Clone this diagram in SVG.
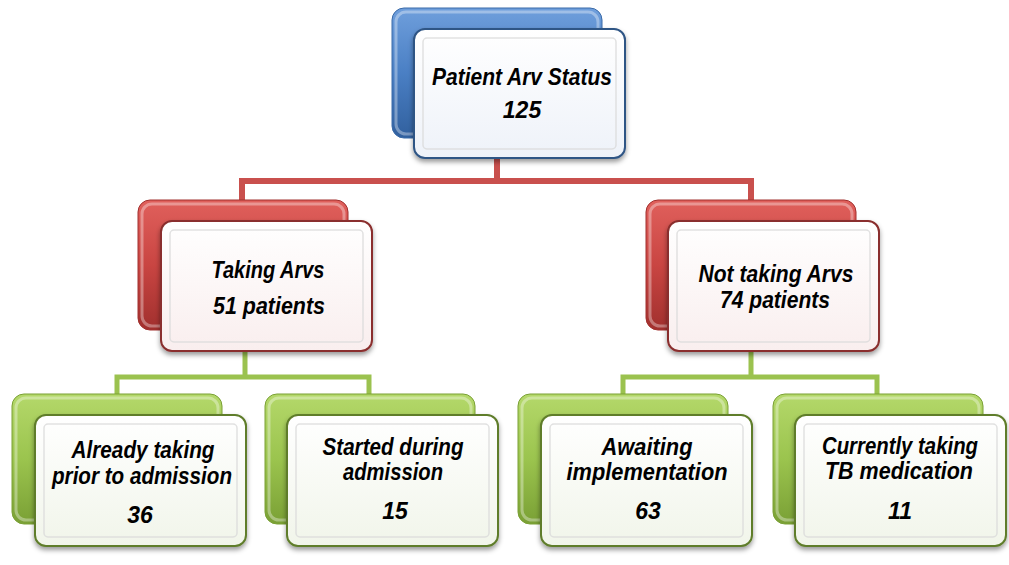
<svg xmlns="http://www.w3.org/2000/svg" width="1009" height="565" viewBox="0 0 1009 565">
<defs>
<linearGradient id="gBlue" x1="0" y1="0" x2="0" y2="1"><stop offset="0" stop-color="#6f9fdc"/><stop offset="0.5" stop-color="#4a7fc4"/><stop offset="1" stop-color="#31609e"/></linearGradient>
<linearGradient id="gRed" x1="0" y1="0" x2="0" y2="1"><stop offset="0" stop-color="#e0605c"/><stop offset="0.5" stop-color="#c94542"/><stop offset="1" stop-color="#a1302e"/></linearGradient>
<linearGradient id="gGreen" x1="0" y1="0" x2="0" y2="1"><stop offset="0" stop-color="#b4d86a"/><stop offset="0.5" stop-color="#9bc44e"/><stop offset="1" stop-color="#7aa035"/></linearGradient>
<linearGradient id="fBlue" x1="0" y1="0" x2="0" y2="1"><stop offset="0" stop-color="#ffffff"/><stop offset="1" stop-color="#eef2f9"/></linearGradient>
<linearGradient id="fRed" x1="0" y1="0" x2="0" y2="1"><stop offset="0" stop-color="#ffffff"/><stop offset="1" stop-color="#f9eeee"/></linearGradient>
<linearGradient id="fGreen" x1="0" y1="0" x2="0" y2="1"><stop offset="0" stop-color="#ffffff"/><stop offset="1" stop-color="#f1f5ea"/></linearGradient>
<filter id="sh" x="-10%" y="-10%" width="120%" height="130%"><feDropShadow dx="0" dy="3" stdDeviation="2.5" flood-color="#000" flood-opacity="0.4"/></filter>
</defs>
<style>
.back{stroke-width:1}
.bb{fill:url(#gBlue);stroke:#3a6aa8}
.br{fill:url(#gRed);stroke:#a1302e}
.bg{fill:url(#gGreen);stroke:#7aa035}
.front{stroke-width:2;filter:url(#sh)}
.fb{fill:url(#fBlue);stroke:#2f5585}
.fr{fill:url(#fRed);stroke:#8a2f2d}
.fg{fill:url(#fGreen);stroke:#5f7d2a}
.bevel{fill:none;stroke:#d9d9d9;stroke-width:1.5;opacity:0.8}
.hl{fill:none;stroke:#ffffff;stroke-opacity:0.35;stroke-width:3}
.t{font-family:"Liberation Sans",Arial,sans-serif;font-weight:bold;font-style:italic;font-size:23px;fill:#000;text-anchor:middle}
.cr{fill:none;stroke:#c9504d;stroke-width:6}
.cg{fill:none;stroke:#9bc24f;stroke-width:5}
</style>
<g id="connectors">
<path class="cr" d="M497 150 V181 M242 200 V181 H751 V200"/>
<path class="cg" d="M245 345 V377 M117 394 V377 H369 V394"/>
<path class="cg" d="M751 345 V377 M623 394 V377 H877 V394"/>
</g>
<g id="n-root">
<rect class="back bb" x="392" y="8" width="210" height="130" rx="12"/>
<rect class="hl" x="396" y="12" width="202" height="122" rx="10"/>
<rect class="front fb" x="414" y="29" width="211" height="129" rx="11"/>
<rect class="bevel" x="423" y="38" width="193" height="111" rx="4"/>
<text class="t" x="522" y="85" textLength="180" lengthAdjust="spacingAndGlyphs">Patient Arv Status</text>
<text class="t" x="522" y="118">125</text>
</g>
<g id="n-taking">
<rect class="back br" x="138" y="200" width="210" height="130" rx="12"/>
<rect class="hl" x="142" y="204" width="202" height="122" rx="10"/>
<rect class="front fr" x="161" y="221" width="211" height="130" rx="11"/>
<rect class="bevel" x="170" y="230" width="193" height="112" rx="4"/>
<text class="t" x="268" y="278" textLength="113" lengthAdjust="spacingAndGlyphs">Taking Arvs</text>
<text class="t" x="269" y="314" textLength="112" lengthAdjust="spacingAndGlyphs">51 patients</text>
</g>
<g id="n-nottaking">
<rect class="back br" x="646" y="200" width="210" height="130" rx="12"/>
<rect class="hl" x="650" y="204" width="202" height="122" rx="10"/>
<rect class="front fr" x="668" y="221" width="211" height="130" rx="11"/>
<rect class="bevel" x="677" y="230" width="193" height="112" rx="4"/>
<text class="t" x="776" y="282" textLength="155" lengthAdjust="spacingAndGlyphs">Not taking Arvs</text>
<text class="t" x="775" y="308" textLength="110" lengthAdjust="spacingAndGlyphs">74 patients</text>
</g>
<g id="n-already">
<rect class="back bg" x="12" y="394" width="210" height="130" rx="12"/>
<rect class="hl" x="16" y="398" width="202" height="122" rx="10"/>
<rect class="front fg" x="35" y="415" width="211" height="131" rx="11"/>
<rect class="bevel" x="44" y="424" width="193" height="113" rx="4"/>
<text class="t" x="143" y="458" textLength="143" lengthAdjust="spacingAndGlyphs">Already taking</text>
<text class="t" x="142" y="484" textLength="180" lengthAdjust="spacingAndGlyphs">prior to admission</text>
<text class="t" x="140" y="523">36</text>
</g>
<g id="n-started">
<rect class="back bg" x="265" y="394" width="210" height="130" rx="12"/>
<rect class="hl" x="269" y="398" width="202" height="122" rx="10"/>
<rect class="front fg" x="287" y="415" width="211" height="131" rx="11"/>
<rect class="bevel" x="296" y="424" width="193" height="113" rx="4"/>
<text class="t" x="393" y="455" textLength="141" lengthAdjust="spacingAndGlyphs">Started during</text>
<text class="t" x="393" y="480" textLength="100" lengthAdjust="spacingAndGlyphs">admission</text>
<text class="t" x="395" y="519">15</text>
</g>
<g id="n-awaiting">
<rect class="back bg" x="518" y="394" width="210" height="130" rx="12"/>
<rect class="hl" x="522" y="398" width="202" height="122" rx="10"/>
<rect class="front fg" x="541" y="415" width="211" height="131" rx="11"/>
<rect class="bevel" x="550" y="424" width="193" height="113" rx="4"/>
<text class="t" x="647" y="455" textLength="91" lengthAdjust="spacingAndGlyphs">Awaiting</text>
<text class="t" x="647" y="480" textLength="161" lengthAdjust="spacingAndGlyphs">implementation</text>
<text class="t" x="648" y="519">63</text>
</g>
<g id="n-tb">
<rect class="back bg" x="773" y="394" width="210" height="130" rx="12"/>
<rect class="hl" x="777" y="398" width="202" height="122" rx="10"/>
<rect class="front fg" x="795" y="415" width="211" height="131" rx="11"/>
<rect class="bevel" x="804" y="424" width="193" height="113" rx="4"/>
<text class="t" x="900" y="454" textLength="156" lengthAdjust="spacingAndGlyphs">Currently taking</text>
<text class="t" x="899" y="479" textLength="148" lengthAdjust="spacingAndGlyphs">TB medication</text>
<text class="t" x="900" y="519">11</text>
</g>
</svg>
